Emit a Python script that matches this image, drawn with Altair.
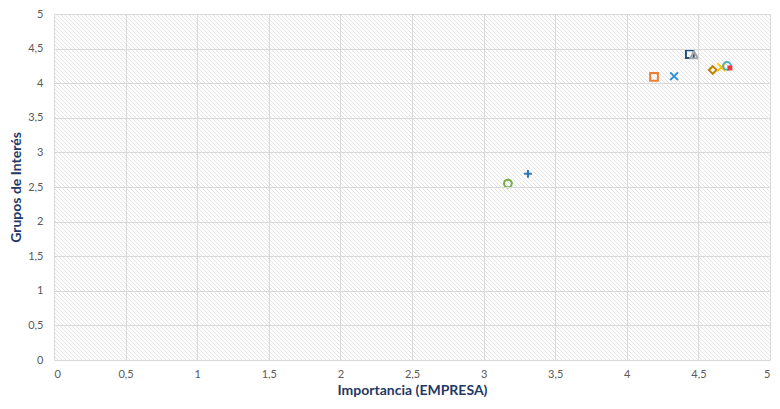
import altair as alt
import pandas as pd
import numpy as np

# data
xs = [3.17, 3.31, 4.19, 4.33, 4.44, 4.47, 4.60, 4.66, 4.70]
ys = [2.55, 2.69, 4.09, 4.10, 4.42, 4.41, 4.19, 4.23, 4.25]
shapes = ["circle", "M-1,0L1,0M0,-1L0,1", "square", "M-1,-1L1,1M1,-1L-1,1", "square",
          "triangle-up", "diamond", "M-1,-1L1,1M1,-1L-1,1", "circle"]
colors = ["#70ad47", "#2e75b6", "#ed7d31", "#2e8fd8", "#1f4e79",
          "#a5a5a5", "#bf8000", "#ffc000", "#4bacc6"]
red_x = [4.72]
red_y = [4.22]

ticks = [0, 0.5, 1, 1.5, 2, 2.5, 3, 3.5, 4, 4.5, 5]

pts = pd.DataFrame({"x": xs, "y": ys, "shape": shapes, "color": colors})
red = pd.DataFrame({"x": red_x, "y": red_y})

W, H = 716, 346
FONT = "Lato"
label_expr = "replace(format(datum.value, ''), '.', ',')"

xscale = alt.Scale(domain=[0, 5], nice=False, zero=True)
yscale = alt.Scale(domain=[0, 5], nice=False, zero=True)

xaxis = alt.Axis(values=ticks, labelExpr=label_expr, title="Importancia (EMPRESA)",
                 grid=True, gridColor="#d9d9d9", gridWidth=1, domain=False,
                 ticks=False, labelPadding=8, titlePadding=4, zindex=1,
                 labelOverlap=False)
yaxis = alt.Axis(values=ticks, labelExpr=label_expr, title="Grupos de Interés",
                 grid=True, gridColor="#d9d9d9", gridWidth=1, domain=False,
                 ticks=False, labelPadding=11, titlePadding=4, zindex=1,
                 labelOverlap=False, tickCount=11)

# decorative hatch: 45-degree lines every ~4px
dx_units = 4 / (W / 5)
span = H * 5 / W
starts = np.arange(-span, 5 + dx_units, dx_units)
hatch = pd.DataFrame({"x": starts, "x2": starts + span, "y": 5.0, "y2": 0.0})

hatch_layer = alt.Chart(hatch).mark_rule(
    clip=True, color="#dcdcdc", strokeWidth=0.8
).encode(
    x=alt.X("x:Q", scale=xscale, axis=xaxis),
    x2="x2:Q",
    y=alt.Y("y:Q", scale=yscale, axis=yaxis),
    y2="y2:Q",
)

pt_layer = alt.Chart(pts).mark_point(filled=False, size=60, strokeWidth=2, opacity=1).encode(
    x=alt.X("x:Q", scale=xscale, axis=xaxis),
    y=alt.Y("y:Q", scale=yscale, axis=yaxis),
    shape=alt.Shape("shape:N", scale=None),
    color=alt.Color("color:N", scale=None),
)

red_layer = alt.Chart(red).mark_point(filled=True, size=25, shape="square", color="#e0403a", opacity=1).encode(
    x=alt.X("x:Q", scale=xscale, axis=xaxis),
    y=alt.Y("y:Q", scale=yscale, axis=yaxis),
)

chart = alt.layer(hatch_layer, pt_layer, red_layer).properties(
    width=W, height=H,
    autosize=alt.AutoSizeParams(type="none"),
    padding={"left": 46, "top": 6, "right": 2, "bottom": 41},
).configure_view(stroke=None).configure_axis(
    labelFont=FONT, labelFontSize=11, labelColor="#595959",
    titleFont=FONT, titleFontSize=14, titleFontWeight="bold", titleColor="#1f3864",
)

chart.save("out.html", embed_options={"renderer": "svg", "actions": False})
